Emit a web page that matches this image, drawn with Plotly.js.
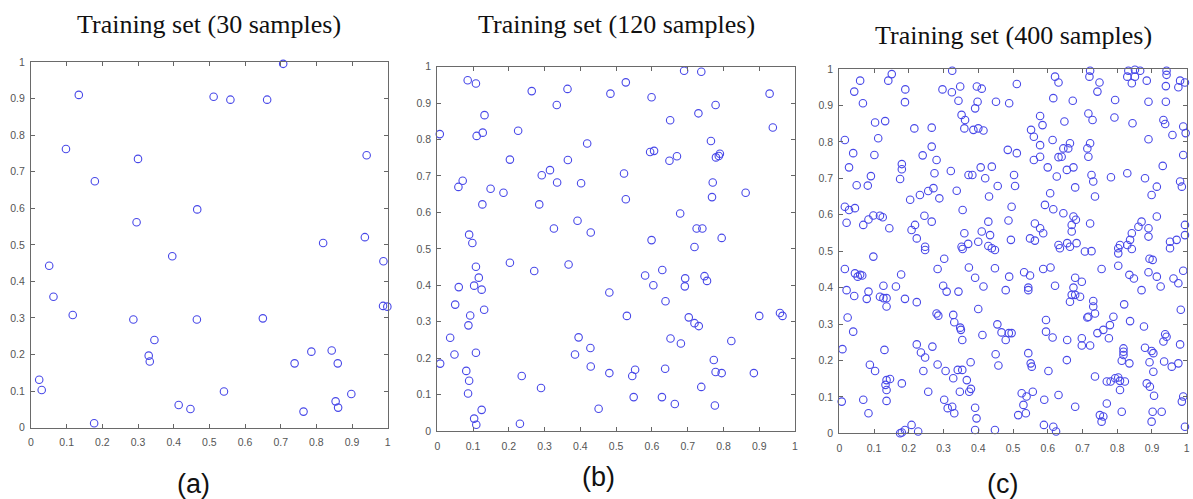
<!DOCTYPE html>
<html>
<head>
<meta charset="utf-8">
<script src="https://cdn.plot.ly/plotly-3.0.1.min.js"></script>
<style>
  html, body { margin: 0; padding: 0; background: #ffffff; }
  #chart { width: 1193px; height: 499px; }
</style>
</head>
<body>
<div id="chart"></div>
<script>
// ---------------- Data ----------------
const panelTitles = ["Training set (30 samples)", "Training set (120 samples)", "Training set (400 samples)"];
const panelLabels = ["(a)", "(b)", "(c)"];
const tickVals = [0, 0.1, 0.2, 0.3, 0.4, 0.5, 0.6, 0.7, 0.8, 0.9, 1];
const tickText = ["0", "0.1", "0.2", "0.3", "0.4", "0.5", "0.6", "0.7", "0.8", "0.9", "1"];

// Panel (a)
const aX = [0.134,0.098,0.179,0.300,0.296,0.466,0.512,0.559,0.662,0.707,0.941,0.936,0.819,
            0.051,0.063,0.117,0.023,0.030,0.177,0.287,0.330,0.333,0.346,0.396,0.465,0.414,0.447,
            0.541,0.650,0.739,0.786,0.764,0.843,0.860,0.854,0.861,0.898,0.988,0.987,0.999];
const aY = [0.910,0.762,0.674,0.735,0.562,0.597,0.905,0.897,0.897,0.995,0.745,0.521,0.505,
            0.443,0.358,0.308,0.131,0.103,0.012,0.296,0.197,0.181,0.240,0.469,0.296,0.062,0.051,
            0.099,0.299,0.176,0.208,0.044,0.211,0.176,0.072,0.055,0.092,0.455,0.333,0.331];

// Panel (b)
const bX = [0.085,0.108,0.264,0.364,0.334,0.132,0.007,0.110,0.127,0.226,0.203,0.419,0.365,0.292,0.315,
            0.335,0.402,0.059,0.071,0.149,0.185,0.126,0.285,0.484,0.527,0.599,0.522,0.527,0.392,0.326,
            0.429,0.089,0.098,0.599,0.690,0.738,0.651,0.730,0.778,0.595,0.606,0.649,0.670,0.765,0.779,
            0.790,0.787,0.770,0.768,0.862,0.679,0.725,0.741,0.795,0.719,0.929,0.938,
            0.203,0.271,0.367,0.108,0.116,0.103,0.124,0.060,0.050,0.131,0.092,0.087,0.036,0.048,0.108,
            0.008,0.081,0.089,0.086,0.124,0.103,0.109,0.236,0.290,0.231,0.395,0.385,0.428,0.429,0.481,
            0.481,0.451,0.530,0.545,0.553,0.549,0.581,0.604,0.629,0.638,0.652,0.637,0.628,0.664,0.681,
            0.693,0.692,0.703,0.719,0.731,0.747,0.754,0.773,0.778,0.795,0.738,0.776,0.822,0.885,0.900,
            0.958,0.965];
const bY = [0.963,0.954,0.933,0.939,0.895,0.867,0.815,0.810,0.819,0.824,0.745,0.789,0.744,0.702,0.716,
            0.682,0.680,0.670,0.687,0.665,0.654,0.622,0.622,0.926,0.957,0.916,0.707,0.636,0.577,0.556,
            0.545,0.539,0.516,0.524,0.989,0.986,0.853,0.872,0.895,0.766,0.769,0.742,0.754,0.796,0.751,
            0.761,0.755,0.682,0.642,0.654,0.597,0.556,0.556,0.530,0.505,0.926,0.833,
            0.462,0.439,0.457,0.451,0.421,0.399,0.388,0.395,0.347,0.333,0.317,0.290,0.256,0.210,0.215,
            0.185,0.165,0.138,0.103,0.058,0.034,0.017,0.151,0.118,0.020,0.257,0.210,0.228,0.177,0.380,
            0.159,0.061,0.316,0.151,0.168,0.093,0.427,0.400,0.442,0.356,0.254,0.171,0.093,0.074,0.240,
            0.419,0.397,0.312,0.296,0.288,0.425,0.412,0.195,0.162,0.159,0.121,0.070,0.247,0.159,0.316,
            0.324,0.316];

// Panel (c)
const cX = [
  // upper left
  0.325,0.151,0.141,0.060,0.043,0.068,0.190,0.189,0.297,0.324,0.348,0.343,0.396,0.410,0.398,0.391,
  0.451,0.489,0.352,0.362,0.360,0.386,0.400,0.415,0.103,0.132,0.216,0.266,0.016,0.112,0.040,0.101,
  0.266,0.240,0.280,0.485,0.028,0.180,0.180,0.175,0.274,0.321,0.372,0.383,0.407,0.439,0.420,0.456,
  0.050,0.082,0.091,0.338,0.256,0.271,0.288,0.204,0.232,0.431,0.355,0.016,0.028,0.045,0.021,0.069,
  0.084,0.098,0.117,0.125,0.144,0.245,0.266,0.218,0.208,0.223,0.429,0.487,0.360,0.410,0.400,0.434,
  0.494,0.352,0.371,0.247,0.429,0.496,
  // upper right
  0.722,0.720,0.832,0.851,0.866,0.829,0.851,0.842,0.942,0.942,0.511,0.621,0.631,0.749,0.743,0.885,
  0.940,0.981,0.995,0.976,0.616,0.672,0.794,0.890,0.940,0.717,0.729,0.792,0.578,0.585,0.552,0.648,
  0.844,0.933,0.938,0.959,0.990,0.997,0.890,0.560,0.578,0.614,0.664,0.659,0.645,0.640,0.631,0.722,
  0.714,0.717,0.511,0.560,0.578,0.600,0.655,0.674,0.626,0.726,0.731,0.782,0.829,0.880,0.931,0.990,
  0.503,0.506,0.679,0.607,0.736,0.592,0.616,0.645,0.674,0.681,0.914,0.899,0.981,0.986,0.563,0.578,
  0.587,0.669,0.669,0.722,0.870,0.861,0.890,0.914,0.995,0.549,0.563,0.656,0.683,0.631,0.808,0.837,
  0.842,0.829,0.890,0.952,0.971,0.995,
  // lower left
  0.247,0.355,0.439,0.448,0.098,0.302,0.283,0.373,0.448,0.016,0.045,0.053,0.060,0.066,0.178,0.391,
  0.489,0.127,0.163,0.299,0.309,0.415,0.479,0.021,0.043,0.084,0.079,0.117,0.127,0.136,0.136,0.189,
  0.223,0.343,0.400,0.024,0.280,0.285,0.328,0.331,0.348,0.350,0.354,0.455,0.467,0.488,0.479,0.412,
  0.040,0.009,0.130,0.223,0.235,0.247,0.268,0.450,0.458,0.088,0.103,0.242,0.283,0.306,0.328,0.341,
  0.354,0.378,0.367,0.136,0.146,0.133,0.136,0.180,0.256,0.347,0.374,0.379,0.007,0.069,0.084,0.136,
  0.302,0.312,0.325,0.331,0.391,0.395,0.180,0.189,0.208,0.227,0.391,0.448,0.175,
  // lower right
  0.635,0.664,0.707,0.726,0.803,0.803,0.842,0.952,0.893,0.902,0.755,0.803,0.587,0.608,0.532,0.549,
  0.835,0.848,0.890,0.914,0.925,0.962,0.976,0.990,0.544,0.544,0.621,0.679,0.698,0.674,0.669,0.679,
  0.693,0.664,0.870,0.820,0.731,0.731,0.736,0.717,0.714,0.983,0.595,0.789,0.837,0.877,0.595,0.614,
  0.496,0.656,0.698,0.698,0.722,0.743,0.760,0.779,0.776,0.938,0.942,0.933,0.981,0.880,0.899,0.904,
  0.818,0.818,0.818,0.813,0.835,0.893,0.904,0.935,0.957,0.976,0.544,0.551,0.554,0.602,0.655,0.736,
  0.770,0.781,0.794,0.803,0.808,0.822,0.808,0.885,0.894,0.906,0.525,0.539,0.557,0.530,0.515,0.537,
  0.590,0.631,0.679,0.770,0.750,0.760,0.755,0.813,0.902,0.928,0.990,0.986,0.589,0.616,0.624,0.899,
  0.995
];
const cY = [
  // upper left
  0.995,0.986,0.968,0.968,0.938,0.906,0.944,0.909,0.944,0.936,0.952,0.913,0.952,0.946,0.910,0.892,
  0.910,0.906,0.874,0.860,0.837,0.833,0.837,0.831,0.853,0.857,0.837,0.839,0.805,0.810,0.769,0.764,
  0.787,0.763,0.750,0.778,0.730,0.739,0.725,0.698,0.714,0.720,0.709,0.709,0.730,0.732,0.700,0.679,
  0.681,0.680,0.706,0.666,0.665,0.673,0.645,0.641,0.654,0.650,0.613,0.622,0.613,0.618,0.578,0.572,
  0.587,0.598,0.597,0.593,0.563,0.597,0.581,0.572,0.558,0.535,0.581,0.584,0.549,0.554,0.526,0.544,
  0.531,0.512,0.520,0.512,0.514,0.622,
  // upper right
  0.995,0.979,0.995,0.998,0.995,0.979,0.979,0.961,0.995,0.984,0.959,0.979,0.963,0.963,0.938,0.968,
  0.953,0.968,0.963,0.950,0.920,0.913,0.915,0.910,0.910,0.878,0.860,0.867,0.871,0.846,0.833,0.856,
  0.851,0.860,0.849,0.819,0.842,0.824,0.807,0.814,0.791,0.805,0.796,0.782,0.782,0.759,0.758,0.796,
  0.782,0.759,0.769,0.750,0.759,0.730,0.723,0.730,0.705,0.709,0.691,0.703,0.714,0.700,0.734,0.764,
  0.709,0.679,0.675,0.659,0.650,0.627,0.615,0.604,0.595,0.586,0.677,0.654,0.691,0.677,0.576,0.563,
  0.549,0.572,0.554,0.576,0.581,0.567,0.563,0.595,0.572,0.535,0.529,0.522,0.522,0.517,0.517,0.531,
  0.549,0.517,0.540,0.526,0.531,0.544,
  // lower left
  0.503,0.506,0.508,0.503,0.485,0.479,0.451,0.455,0.453,0.451,0.439,0.430,0.435,0.433,0.436,0.427,
  0.430,0.405,0.403,0.405,0.389,0.403,0.393,0.393,0.377,0.389,0.369,0.375,0.371,0.371,0.348,0.369,
  0.360,0.389,0.341,0.318,0.329,0.323,0.325,0.305,0.290,0.284,0.256,0.299,0.277,0.275,0.256,0.270,
  0.279,0.231,0.229,0.244,0.222,0.208,0.238,0.217,0.186,0.188,0.171,0.171,0.189,0.171,0.151,0.174,
  0.174,0.195,0.146,0.146,0.149,0.133,0.119,0.137,0.114,0.114,0.114,0.122,0.087,0.092,0.055,0.089,
  0.092,0.069,0.073,0.055,0.070,0.041,0.002,0.009,0.023,0.005,0.009,0.009,0.000,
  // lower right
  0.508,0.512,0.499,0.500,0.508,0.494,0.506,0.508,0.479,0.476,0.451,0.460,0.451,0.455,0.442,0.433,
  0.435,0.425,0.442,0.430,0.403,0.425,0.412,0.446,0.400,0.393,0.405,0.427,0.416,0.400,0.380,0.380,
  0.375,0.361,0.393,0.354,0.363,0.348,0.329,0.320,0.318,0.339,0.311,0.320,0.308,0.293,0.279,0.263,
  0.275,0.256,0.261,0.241,0.241,0.275,0.284,0.297,0.261,0.272,0.265,0.252,0.244,0.235,0.226,0.220,
  0.233,0.224,0.215,0.199,0.192,0.195,0.169,0.197,0.183,0.192,0.220,0.192,0.183,0.171,0.201,0.156,
  0.142,0.142,0.151,0.153,0.144,0.142,0.119,0.137,0.128,0.103,0.110,0.101,0.114,0.078,0.050,0.055,
  0.092,0.105,0.073,0.082,0.050,0.046,0.032,0.059,0.059,0.059,0.101,0.087,0.023,0.018,0.005,0.032,
  0.018
];

// ---------------- Layout geometry ----------------
const W = 1193, H = 499;
const panels = [
  { x: aX, y: aY, box: [31, 62, 387.7, 427.7], titleY: 24, labelX: 193, labelY: 484 },
  { x: bX, y: bY, box: [437.3, 66.7, 795, 431], titleY: 24, labelX: 598, labelY: 477 },
  { x: cX, y: cY, box: [839.3, 69, 1186.7, 433.3], titleY: 36, labelX: 1002, labelY: 484 }
];

const markerColor = "rgb(72,72,232)";
const traces = [];
const layout = {
  width: W, height: H,
  margin: { l: 0, r: 0, t: 0, b: 0 },
  paper_bgcolor: "#ffffff",
  plot_bgcolor: "#ffffff",
  showlegend: false,
  annotations: []
};

function axisCommon() {
  return {
    range: [0, 1],
    tickmode: "array",
    tickvals: tickVals,
    ticktext: tickText,
    ticks: "inside",
    ticklen: 4,
    tickwidth: 1,
    tickcolor: "#666666",
    showline: true,
    linecolor: "#6a6a6a",
    linewidth: 1.2,
    mirror: "ticks",
    showgrid: false,
    zeroline: false,
    fixedrange: true,
    tickfont: { family: "Liberation Sans, Arial, sans-serif", size: 10.5, color: "#555555" }
  };
}

panels.forEach((p, i) => {
  const n = i === 0 ? "" : String(i + 1);
  const [x0, y0, x1, y1] = p.box;
  const xa = axisCommon();
  xa.domain = [x0 / W, x1 / W];
  xa.anchor = "y" + n;
  xa.ticklabelstandoff = 5;
  const ya = axisCommon();
  ya.domain = [1 - y1 / H, 1 - y0 / H];
  ya.anchor = "x" + n;
  ya.ticklabelstandoff = 3;
  layout["xaxis" + n] = xa;
  layout["yaxis" + n] = ya;

  traces.push({
    type: "scatter",
    mode: "markers",
    x: p.x, y: p.y,
    xaxis: "x" + n, yaxis: "y" + n,
    cliponaxis: false,
    hoverinfo: "x+y",
    marker: { symbol: "circle-open", size: 7.5, color: markerColor, line: { width: 1.1, color: markerColor } }
  });

  layout.annotations.push({
    text: panelTitles[i],
    xref: "paper", yref: "paper",
    x: (x0 + x1) / 2 / W, y: 1 - p.titleY / H,
    xanchor: "center", yanchor: "middle",
    showarrow: false,
    font: { family: "Liberation Serif, Times New Roman, serif", size: 26, color: "#111111" }
  });
  layout.annotations.push({
    text: panelLabels[i],
    xref: "paper", yref: "paper",
    x: p.labelX / W, y: 1 - p.labelY / H,
    xanchor: "center", yanchor: "middle",
    showarrow: false,
    font: { family: "Liberation Sans, Arial, sans-serif", size: 27, color: "#111111" }
  });
});

Plotly.newPlot("chart", traces, layout, { displayModeBar: false, staticPlot: false });
</script>
</body>
</html>
